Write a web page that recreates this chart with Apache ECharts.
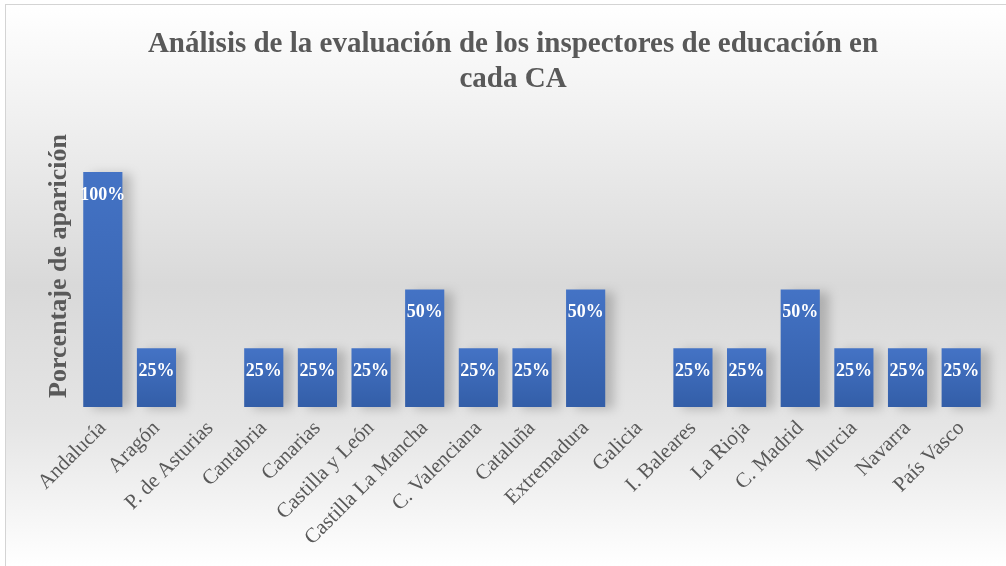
<!DOCTYPE html>
<html>
<head>
<meta charset="utf-8">
<script src="https://cdn.jsdelivr.net/npm/echarts@6/dist/echarts.min.js"></script>
<style>
  html, body { margin: 0; padding: 0; background: #ffffff; }
  #chart {
    position: absolute; left: 5px; top: 4px;
    width: 1000px; height: 561px;
    border-left: 1px solid #d4d4d4; border-top: 1px solid #d4d4d4;
  }
</style>
</head>
<body>
<div id="chart"></div>
<script>
// Comunidades autónomas and share of appearances
var categories = ['Andalucía', 'Aragón', 'P. de Asturias', 'Cantabria', 'Canarias',
    'Castilla y León', 'Castilla La Mancha', 'C. Valenciana', 'Cataluña', 'Extremadura',
    'Galicia', 'I. Baleares', 'La Rioja', 'C. Madrid', 'Murcia', 'Navarra', 'País Vasco'];
var values = [1, 0.25, 0, 0.25, 0.25, 0.25, 0.5, 0.25, 0.25, 0.5,
    0, 0.25, 0.25, 0.5, 0.25, 0.25, 0.25];

var serif = '"Liberation Serif", "Times New Roman", serif';

var myChart = echarts.init(document.getElementById('chart'));

var option = {
    backgroundColor: new echarts.graphic.LinearGradient(0, 0, 0, 1, [
        { offset: 0, color: '#ffffff' },
        { offset: 0.2, color: '#f0f0f0' },
        { offset: 0.5, color: '#d9d9d9' },
        { offset: 0.75, color: '#e5e5e5' },
        { offset: 1, color: '#ffffff' }
    ]),
    title: {
        text: 'Análisis de la evaluación de los inspectores de educación en\ncada CA',
        left: 502,
        top: 17,
        textAlign: 'center',
        textStyle: {
            fontFamily: serif,
            fontSize: 29,
            fontWeight: 'bold',
            color: '#595959',
            lineHeight: 35
        }
    },
    grid: {
        left: 70,
        right: 18,
        top: 120,
        bottom: 159
    },
    xAxis: {
        type: 'category',
        data: categories,
        axisLine: { show: false },
        axisTick: { show: false },
        axisLabel: {
            rotate: 45,
            margin: 18,
            interval: 0,
            fontFamily: serif,
            fontSize: 21,
            color: '#595959'
        }
    },
    yAxis: {
        type: 'value',
        min: 0,
        max: 1.2,
        name: 'Porcentaje de aparición',
        nameLocation: 'middle',
        nameGap: 4,
        nameTextStyle: {
            fontFamily: serif,
            fontSize: 26,
            fontWeight: 'bold',
            color: '#595959'
        },
        axisLine: { show: false },
        axisTick: { show: false },
        axisLabel: { show: false },
        splitLine: { show: false }
    },
    series: [
        {
            name: 'Porcentaje',
            type: 'bar',
            data: values,
            barCategoryGap: '27%',
            itemStyle: {
                color: new echarts.graphic.LinearGradient(0, 0, 0, 1, [
                    { offset: 0, color: '#4473c5' },
                    { offset: 1, color: '#335ea8' }
                ]),
                shadowColor: 'rgba(0, 0, 0, 0.2)',
                shadowBlur: 10,
                shadowOffsetX: 9,
                shadowOffsetY: 2
            },
            label: {
                show: true,
                position: 'insideTop',
                distance: 14,
                fontFamily: serif,
                fontSize: 18,
                fontWeight: 'bold',
                color: '#ffffff',
                formatter: function (p) {
                    return p.value ? Math.round(p.value * 100) + '%' : '';
                }
            }
        }
    ]
};

myChart.setOption(option);
</script>
</body>
</html>
